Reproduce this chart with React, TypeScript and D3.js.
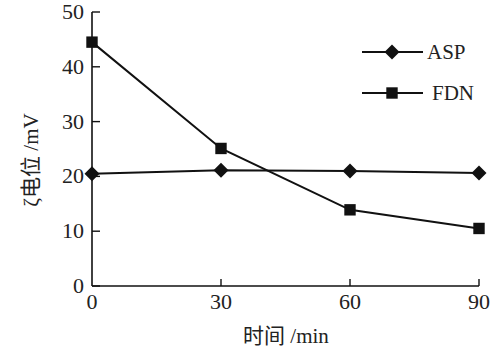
import React, { useEffect, useRef } from "react";
import * as d3 from "d3";

const times = [0, 30, 60, 90];
const aspValues = [20.5, 21.1, 21.0, 20.6];
const fdnValues = [44.5, 25.1, 13.9, 10.5];
const xTicks = [0, 30, 60, 90];
const yTicks = [0, 10, 20, 30, 40, 50];
const seriesNames = ["ASP", "FDN"];

const FONT = "'Liberation Serif', 'Times New Roman', 'Noto Sans CJK SC', serif";

function App() {
  const ref = useRef<SVGSVGElement | null>(null);

  useEffect(() => {
    const svg = d3.select(ref.current);
    svg.selectAll("*").remove();

    const x = d3.scaleLinear().domain([0, 90]).range([92, 479]);
    const y = d3.scaleLinear().domain([0, 50]).range([286, 12]);

    const g = svg.append("g");

    // axes
    g.append("line")
      .attr("x1", x(0)).attr("x2", x(0))
      .attr("y1", y(50)).attr("y2", y(0))
      .attr("stroke", "#111").attr("stroke-width", 1.6);
    g.append("line")
      .attr("x1", x(0)).attr("x2", x(90))
      .attr("y1", y(0)).attr("y2", y(0))
      .attr("stroke", "#111").attr("stroke-width", 1.6);

    g.selectAll(".ytick")
      .data(yTicks)
      .join("line")
      .attr("class", "ytick")
      .attr("x1", x(0)).attr("x2", x(0) + 8)
      .attr("y1", (d) => y(d)).attr("y2", (d) => y(d))
      .attr("stroke", "#111").attr("stroke-width", 1.4);

    g.selectAll(".ylab")
      .data(yTicks)
      .join("text")
      .attr("class", "ylab")
      .attr("x", x(0) - 8)
      .attr("y", (d) => y(d) + 7)
      .attr("text-anchor", "end")
      .attr("font-family", FONT)
      .attr("font-size", 22)
      .attr("fill", "#222")
      .text((d) => d);

    g.selectAll(".xtick")
      .data(xTicks.slice(1))
      .join("line")
      .attr("class", "xtick")
      .attr("x1", (d) => x(d)).attr("x2", (d) => x(d))
      .attr("y1", y(0)).attr("y2", y(0) - 7)
      .attr("stroke", "#111").attr("stroke-width", 1.4);

    g.selectAll(".xlab")
      .data(xTicks)
      .join("text")
      .attr("class", "xlab")
      .attr("x", (d) => x(d))
      .attr("y", y(0) + 23)
      .attr("text-anchor", "middle")
      .attr("font-family", FONT)
      .attr("font-size", 22)
      .attr("fill", "#222")
      .text((d) => d);

    // axis titles
    g.append("text")
      .attr("x", 286)
      .attr("y", 343)
      .attr("text-anchor", "middle")
      .attr("font-family", FONT)
      .attr("font-size", 21)
      .attr("fill", "#222")
      .text("时间 /min");

    g.append("text")
      .attr("transform", "translate(38, 160) rotate(-90)")
      .attr("text-anchor", "middle")
      .attr("font-family", FONT)
      .attr("font-size", 21)
      .attr("fill", "#222")
      .text("ζ电位 /mV");

    const line = d3
      .line<number>()
      .x((d, i) => x(times[i]))
      .y((d) => y(d));

    // diamond = square rotated by 45 degrees
    const diamondPath = "M0,-7.5L7.5,0L0,7.5L-7.5,0Z";
    const square = d3.symbol().type(d3.symbolSquare).size(130);

    // ASP
    g.append("path")
      .attr("d", line(aspValues))
      .attr("fill", "none")
      .attr("stroke", "#111")
      .attr("stroke-width", 2);
    g.selectAll(".asp")
      .data(aspValues)
      .join("path")
      .attr("class", "asp")
      .attr("d", diamondPath)
      .attr("transform", (d, i) => `translate(${x(times[i])}, ${y(d)})`)
      .attr("fill", "#111");

    // FDN
    g.append("path")
      .attr("d", line(fdnValues))
      .attr("fill", "none")
      .attr("stroke", "#111")
      .attr("stroke-width", 2);
    g.selectAll(".fdn")
      .data(fdnValues)
      .join("path")
      .attr("class", "fdn")
      .attr("d", square)
      .attr("transform", (d, i) => `translate(${x(times[i])}, ${y(d)})`)
      .attr("fill", "#111");

    // legend
    const legend = g
      .selectAll(".legend")
      .data(seriesNames)
      .join("g")
      .attr("class", "legend")
      .attr("transform", (d, i) => `translate(362, ${52 + i * 41})`);
    legend
      .append("line")
      .attr("x1", 0).attr("x2", 61)
      .attr("y1", 0).attr("y2", 0)
      .attr("stroke", "#111").attr("stroke-width", 2);
    legend
      .append("path")
      .attr("d", (d, i) => (i === 0 ? diamondPath : square()))
      .attr("transform", "translate(30, 0)")
      .attr("fill", "#111");
    legend
      .append("text")
      .attr("x", (d, i) => (i === 0 ? 65 : 70))
      .attr("y", 7)
      .attr("font-family", FONT)
      .attr("font-size", 21)
      .attr("fill", "#222")
      .text((d) => d);
  }, []);

  return (
    <svg
      ref={ref}
      width={500}
      height={352}
      style={{ position: "absolute", left: 0, top: 0, background: "#fff" }}
    />
  );
}

export default App;
